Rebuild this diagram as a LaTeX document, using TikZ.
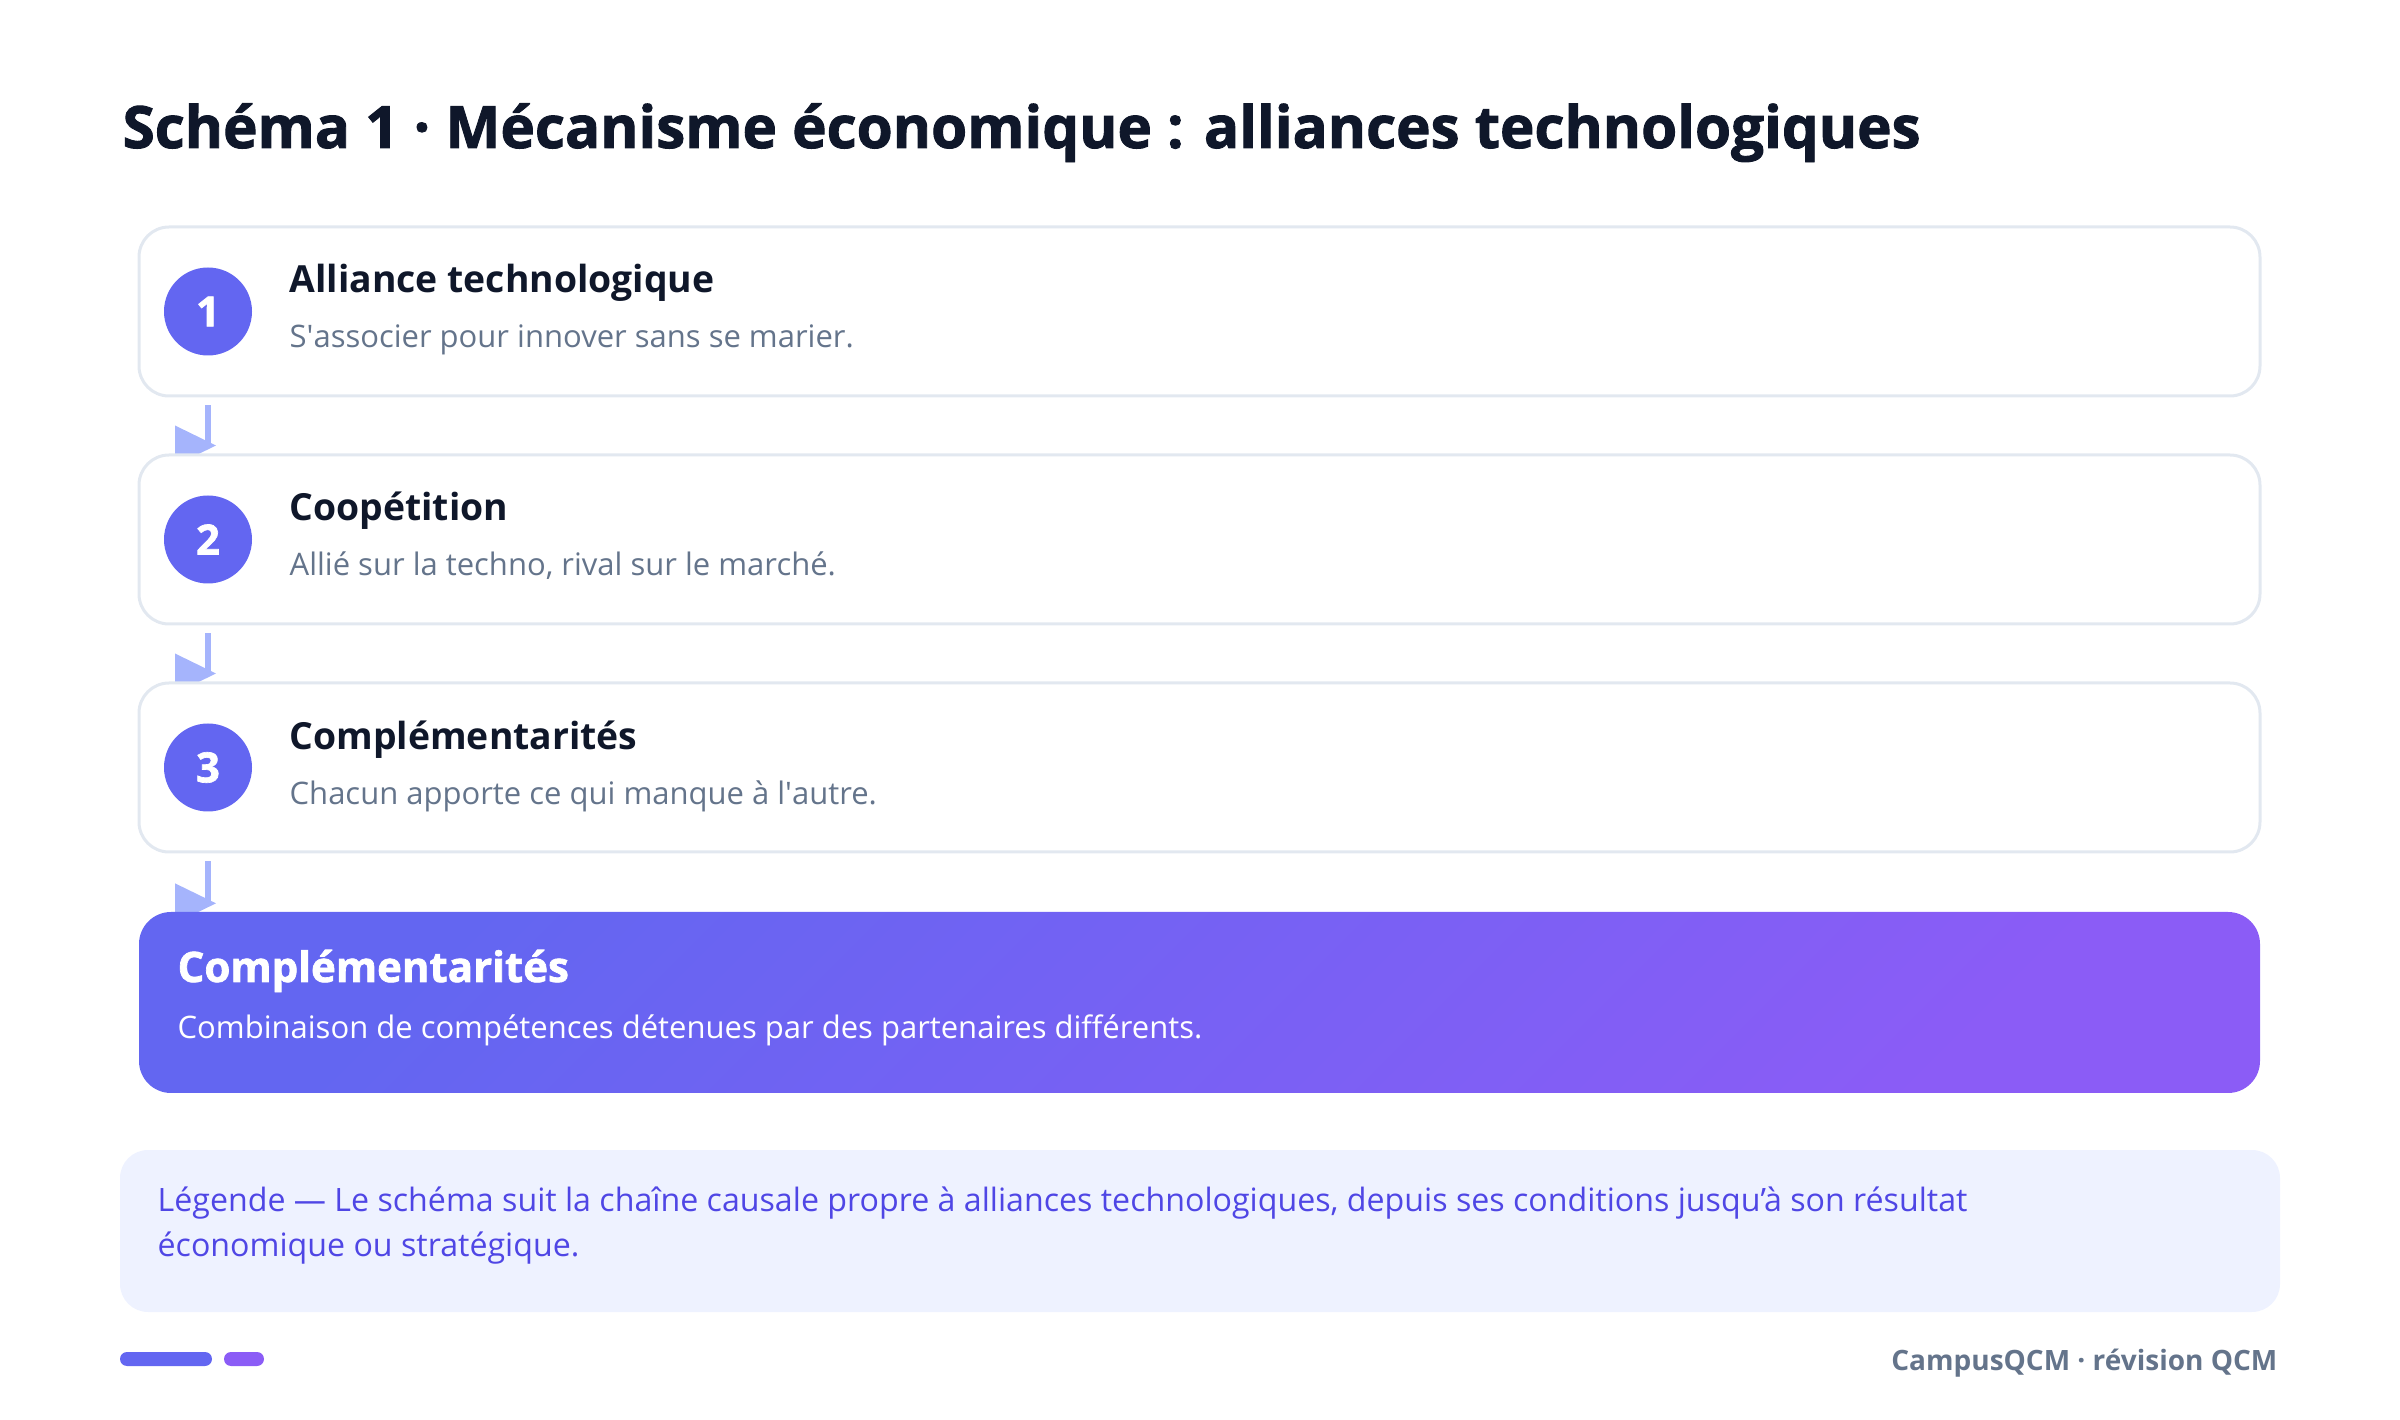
\documentclass[tikz,border=0pt]{standalone}
\usepackage{fontspec}
\setmainfont{Open Sans}
\newfontfamily\heavyfont{Open Sans}[BoldFeatures={FakeBold=1.6}]
\usetikzlibrary{positioning}
\usetikzlibrary{backgrounds}
\usetikzlibrary{calc}

\definecolor{ink}{HTML}{0F172A}
\definecolor{slate}{HTML}{64748B}
\definecolor{indigo}{HTML}{6366F1}
\definecolor{violet}{HTML}{8B5CF6}
\definecolor{edgegray}{HTML}{E2E8F0}
\definecolor{flowblue}{HTML}{A5B4FC}
\definecolor{legendbg}{HTML}{EEF2FF}
\definecolor{legendink}{HTML}{4F46E5}

% one pixel of the 2400 x 1420 picture
\newcommand{\pxu}{0.3pt}

\tikzset{
  stepbox/.style={draw=edgegray, line width=3*\pxu, fill=white, rounded corners=30*\pxu,
    minimum width=2121*\pxu, minimum height=169*\pxu, inner sep=0pt},
  stepnum/.style={circle, fill=indigo, text=white, minimum size=88*\pxu, inner sep=0pt,
    font=\heavyfont\bfseries\fontsize{12.5}{14}\selectfont},
  steptitle/.style={anchor=base west, inner sep=0pt, text=ink, font=\bfseries\fontsize{11.2}{13}\selectfont},
  stepnote/.style={anchor=base west, inner sep=0pt, text=slate, font=\fontsize{9.3}{12}\selectfont},
  resultbox/.style={rounded corners=32*\pxu, minimum width=2121*\pxu, minimum height=181*\pxu,
    inner sep=0pt, top color=indigo, bottom color=violet, shading angle=45},
  resulttitle/.style={anchor=base west, inner sep=0pt, text=white, font=\heavyfont\bfseries\fontsize{12.6}{14}\selectfont},
  resultnote/.style={anchor=base west, inner sep=0pt, text=white, font=\fontsize{9.3}{12}\selectfont},
  legendbox/.style={fill=legendbg, rounded corners=28*\pxu, minimum width=2160*\pxu,
    minimum height=162*\pxu, inner sep=0pt},
  legendtext/.style={anchor=base west, inner sep=0pt, text=legendink, font=\fontsize{9.65}{13}\selectfont},
  flowline/.style={draw=flowblue, line width=6*\pxu},
  flowhead/.style={fill=flowblue},
}

\begin{document}
\begin{tikzpicture}[x=\pxu, y=-\pxu]

  \useasboundingbox (0,0) rectangle (2400,1420);

  % Define nodes
  \node[anchor=base west, inner sep=0pt, text=ink, font=\heavyfont\bfseries\fontsize{17.5}{20}\selectfont] (title) at (122,148)
    {Schéma 1 · Mécanisme économique : alliances technologiques};

  \node[stepbox] (b1) at (1199.5,311.5) {};
  \node[stepnum] (n1) at (208,311.5) {1};
  \node[steptitle] (t1) at (289,293) {Alliance technologique};
  \node[stepnote] (s1) at (289,348) {S\textquotesingle associer pour innover sans se marier.};

  \node[stepbox] (b2) at (1199.5,539.5) {};
  \node[stepnum] (n2) at (208,539.5) {2};
  \node[steptitle] (t2) at (289,521) {Coopétition};
  \node[stepnote] (s2) at (289,576) {Allié sur la techno, rival sur le marché.};

  \node[stepbox] (b3) at (1199.5,767.5) {};
  \node[stepnum] (n3) at (208,767.5) {3};
  \node[steptitle] (t3) at (289,750) {Complémentarités};
  \node[stepnote] (s3) at (289,805) {Chacun apporte ce qui manque à l\textquotesingle autre.};

  \node[resultbox] (res) at (1199.5,1002.5) {};
  \node[resulttitle] (rt) at (177,982) {Complémentarités};
  \node[resultnote] (rn) at (177,1038) {Combinaison de compétences détenues par des partenaires différents.};

  \node[legendbox] (legend) at (1200,1231) {};
  \node[legendtext] (l1) at (157,1211)
    {Légende — Le schéma suit la chaîne causale propre à alliances technologiques, depuis ses conditions jusqu’à son résultat};
  \node[legendtext] (l2) at (157,1256) {économique ou stratégique.};

  \node[anchor=base east, inner sep=0pt, text=slate, font=\bfseries\fontsize{8.4}{11}\selectfont] (brand) at (2278,1370)
    {CampusQCM · révision QCM};
  \fill[indigo, rounded corners=7*\pxu] (120,1352) rectangle (212,1366);
  \fill[violet, rounded corners=7*\pxu] (224,1352) rectangle (264,1366);

  % Connect the nodes
  \begin{scope}[on background layer]
    \draw[flowline] ($(n1 |- b1.south)+(0,8)$) -- ($(n1 |- b2.north)+(0,-8)$) coordinate (e1);
    \fill[flowhead] (e1) ++(-33,-20) -- ++(41,20) -- ++(-41,20) -- cycle;
    \draw[flowline] ($(n2 |- b2.south)+(0,8)$) -- ($(n2 |- b3.north)+(0,-8)$) coordinate (e2);
    \fill[flowhead] (e2) ++(-33,-20) -- ++(41,20) -- ++(-41,20) -- cycle;
    \draw[flowline] ($(n3 |- b3.south)+(0,8)$) -- ($(n3 |- res.north)+(0,-8)$) coordinate (e3);
    \fill[flowhead] (e3) ++(-33,-20) -- ++(41,20) -- ++(-41,20) -- cycle;
  \end{scope}

\end{tikzpicture}
\end{document}
